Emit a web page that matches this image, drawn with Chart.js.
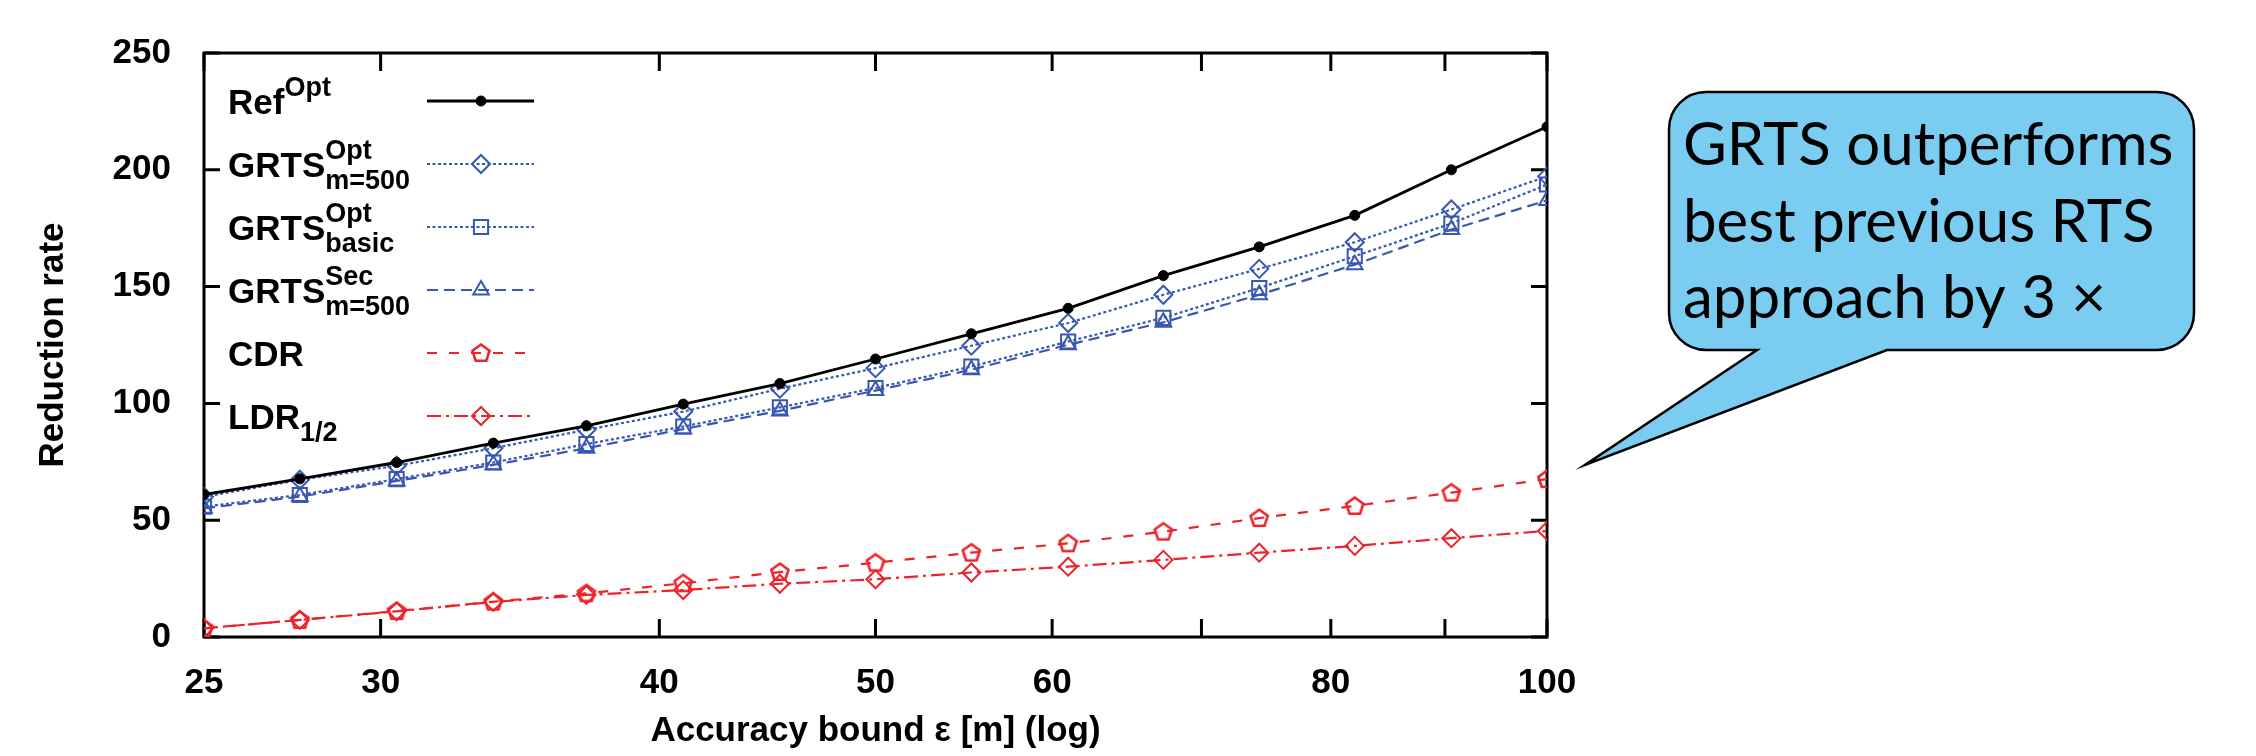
<!DOCTYPE html>
<html>
<head>
<meta charset="utf-8">
<script src="https://cdn.jsdelivr.net/npm/chart.js@4.4.0/dist/chart.umd.min.js"></script>
<style>
  html,body{margin:0;padding:0;background:#fff;}
  #wrap{width:2256px;height:756px;}
</style>
</head>
<body>
<div id="wrap"><canvas id="myChart" width="2256" height="756"></canvas></div>
<script>
//---------- data ----------
const accuracyBounds = [25, 27.6, 30.5, 33.7, 37.1, 41, 45.3, 50, 55.2, 61, 67.3, 74.3, 82, 90.6, 100];
const refOpt      = [61, 67.7, 74.7, 83, 90.4, 99.7, 108.5, 119, 129.8, 140.7, 154.7, 167, 180.5, 200, 218.4];
const grtsOptM500 = [60, 67.3, 73.3, 80.8, 88.7, 96.5, 106.3, 115.1, 124.7, 134.4, 146.5, 157.6, 169, 183, 197.2];
const grtsOptBasic= [55.8, 60.8, 67.6, 74.7, 82.6, 90.1, 98.3, 106.6, 115.8, 126.5, 136.6, 149.4, 163, 177, 193.7];
const grtsSecM500 = [55.1, 60.1, 66.8, 73.7, 80.8, 89, 96.8, 105.5, 114.4, 125.1, 134.7, 146.5, 159.4, 174.4, 186.9];
const cdr         = [3.7, 7.3, 11.1, 15.1, 18.7, 23, 27.8, 31.8, 36.1, 40.1, 45.1, 50.9, 56.1, 61.8, 67.6];
const ldrHalf     = [3.7, 7.3, 11, 15, 18, 20.1, 22.8, 24.7, 27.6, 30.1, 33, 36.1, 39, 42.3, 45.4];

const xTickValues = [25, 30, 40, 50, 60, 70, 80, 90, 100];
const xTickLabels = [25, 30, 40, 50, 60, 80, 100];
const yTickValues = [0, 50, 100, 150, 200, 250];

// legend labels: base text, superscript, subscript
const legendBase = ['Ref', 'GRTS', 'GRTS', 'GRTS', 'CDR', 'LDR'];
const legendSup  = ['Opt', 'Opt', 'Opt', 'Sec', '', ''];
const legendSub  = ['', 'm=500', 'basic', 'm=500', '', '1/2'];

const calloutLines = ['GRTS outperforms', 'best previous RTS', 'approach by 3 \u00d7'];

//---------- styles ----------
const BLUE = '#3757b2';
const RED = '#ee2229';
const FONT = 'Liberation Sans, Arial, sans-serif';

// pentagon marker for CDR
const pentagon = document.createElement('canvas');
pentagon.width = 26; pentagon.height = 26;
(function(){
  const c = pentagon.getContext('2d');
  c.strokeStyle = RED; c.lineWidth = 2.6;
  c.beginPath();
  for (let i = 0; i < 5; i++) {
    const a = -Math.PI/2 + i*2*Math.PI/5;
    const px = 13 + 9*Math.cos(a), py = 13.5 + 9*Math.sin(a);
    i ? c.lineTo(px, py) : c.moveTo(px, py);
  }
  c.closePath(); c.stroke();
})();

const toPoints = arr => arr.map((v, i) => ({x: accuracyBounds[i], y: v}));

const datasets = [
  {label: 'RefOpt', data: toPoints(refOpt), borderColor: '#000', borderWidth: 2.8, borderDash: [],
   pointStyle: 'circle', pointRadius: 5, pointBackgroundColor: '#000', pointBorderColor: '#000', pointBorderWidth: 1},
  {label: 'GRTSOpt m=500', data: toPoints(grtsOptM500), borderColor: BLUE, borderWidth: 2.2, borderDash: [3, 2.5],
   pointStyle: 'rectRot', pointRadius: 9, pointBackgroundColor: 'rgba(0,0,0,0)', pointBorderColor: BLUE, pointBorderWidth: 2},
  {label: 'GRTSOpt basic', data: toPoints(grtsOptBasic), borderColor: BLUE, borderWidth: 2.2, borderDash: [3, 2.5],
   pointStyle: 'rect', pointRadius: 10, pointBackgroundColor: 'rgba(0,0,0,0)', pointBorderColor: BLUE, pointBorderWidth: 2},
  {label: 'GRTSSec m=500', data: toPoints(grtsSecM500), borderColor: BLUE, borderWidth: 2.2, borderDash: [11, 6],
   pointStyle: 'triangle', pointRadius: 9, pointBackgroundColor: 'rgba(0,0,0,0)', pointBorderColor: BLUE, pointBorderWidth: 2},
  {label: 'CDR', data: toPoints(cdr), borderColor: RED, borderWidth: 2.2, borderDash: [10, 12],
   pointStyle: pentagon, pointRadius: 9, pointBackgroundColor: 'rgba(0,0,0,0)', pointBorderColor: RED, pointBorderWidth: 2},
  {label: 'LDR1/2', data: toPoints(ldrHalf), borderColor: RED, borderWidth: 2.2, borderDash: [14, 5, 3, 5],
   pointStyle: 'rectRot', pointRadius: 9, pointBackgroundColor: 'rgba(0,0,0,0)', pointBorderColor: RED, pointBorderWidth: 2},
];
datasets.forEach(d => { d.fill = false; d.tension = 0; d.pointHoverRadius = d.pointRadius; });

//---------- frame with inward ticks ----------
const framePlugin = {
  id: 'frame',
  beforeDatasetsDraw(chart) {
    const {ctx, chartArea: a, scales: {x, y}} = chart;
    ctx.save();
    ctx.strokeStyle = '#000';
    ctx.lineWidth = 3;
    ctx.strokeRect(a.left, a.top, a.right - a.left, a.bottom - a.top);
    ctx.beginPath();
    xTickValues.forEach(v => {
      const px = x.getPixelForValue(v);
      ctx.moveTo(px, a.bottom); ctx.lineTo(px, a.bottom - 18);
      ctx.moveTo(px, a.top); ctx.lineTo(px, a.top + 18);
    });
    yTickValues.forEach(v => {
      const py = y.getPixelForValue(v);
      ctx.moveTo(a.left, py); ctx.lineTo(a.left + 16, py);
      ctx.moveTo(a.right, py); ctx.lineTo(a.right - 16, py);
    });
    ctx.stroke();
    ctx.restore();
  }
};

//---------- legend with super/subscripts ----------
const legendPlugin = {
  id: 'richLegend',
  afterDatasetsDraw(chart) {
    const {ctx, chartArea: a} = chart;
    ctx.save();
    chart.data.datasets.forEach((ds, i) => {
      const rowY = a.top + 48 + i*63;
      const tx = a.left + 24, base = rowY + 13;
      ctx.fillStyle = '#000';
      ctx.textBaseline = 'alphabetic';
      ctx.textAlign = 'left';
      ctx.font = 'bold 35px ' + FONT;
      ctx.fillText(legendBase[i], tx, base);
      const w = ctx.measureText(legendBase[i]).width;
      ctx.font = 'bold 27px ' + FONT;
      if (legendSup[i]) ctx.fillText(legendSup[i], tx + w, base - 18);
      if (legendSub[i]) ctx.fillText(legendSub[i], tx + w, base + 12);
      // line sample
      ctx.strokeStyle = ds.borderColor;
      ctx.lineWidth = ds.borderWidth;
      ctx.setLineDash(ds.borderDash);
      ctx.beginPath();
      ctx.moveTo(a.left + 223, rowY); ctx.lineTo(a.left + 330, rowY);
      ctx.stroke();
      ctx.setLineDash([]);
      ctx.strokeStyle = ds.pointBorderColor;
      ctx.fillStyle = ds.pointBackgroundColor;
      ctx.lineWidth = ds.pointBorderWidth;
      Chart.helpers.drawPoint(ctx, {pointStyle: ds.pointStyle, radius: ds.pointRadius,
        borderWidth: ds.pointBorderWidth, rotation: 0}, a.left + 277, rowY);
    });
    ctx.restore();
  }
};

//---------- speech bubble ----------
const calloutPlugin = {
  id: 'callout',
  afterDraw(chart) {
    const ctx = chart.ctx;
    const L = 1669, T = 92, R = 2194, B = 350, r = 37;
    ctx.save();
    ctx.beginPath();
    ctx.moveTo(L + r, T);
    ctx.lineTo(R - r, T);
    ctx.arcTo(R, T, R, T + r, r);
    ctx.lineTo(R, B - r);
    ctx.arcTo(R, B, R - r, B, r);
    ctx.lineTo(1887, B);
    ctx.lineTo(1585, 465);
    ctx.lineTo(1757, B);
    ctx.lineTo(L + r, B);
    ctx.arcTo(L, B, L, B - r, r);
    ctx.lineTo(L, T + r);
    ctx.arcTo(L, T, L + r, T, r);
    ctx.closePath();
    ctx.fillStyle = '#7acdf1';
    ctx.fill();
    ctx.strokeStyle = '#000';
    ctx.lineWidth = 2.5;
    ctx.lineJoin = 'miter';
    ctx.stroke();
    ctx.fillStyle = '#000';
    ctx.font = '60px Lato, sans-serif';
    ctx.textAlign = 'left';
    ctx.textBaseline = 'alphabetic';
    calloutLines.forEach((t, i) => ctx.fillText(t, 1683, 165 + i*76.7));
    ctx.restore();
  }
};

const tickFont = {family: FONT, size: 35, weight: 'bold'};

const chart = new Chart(document.getElementById('myChart'), {
  type: 'line',
  data: {datasets: datasets},
  options: {
    responsive: false,
    animation: false,
    layout: {padding: {left: 0, top: 53, right: 709, bottom: 0}},
    plugins: {legend: {display: false}, tooltip: {enabled: false}},
    scales: {
      x: {
        type: 'logarithmic', min: 25, max: 100,
        afterBuildTicks: s => { s.ticks = xTickValues.map(v => ({value: v})); },
        afterFit: s => { s.height = 119; },
        grid: {display: false}, border: {display: false},
        ticks: {
          autoSkip: false, maxRotation: 0, color: '#000', font: tickFont, padding: 17,
          callback: v => xTickLabels.includes(v) ? String(v) : ''
        },
        title: {display: true, text: 'Accuracy bound \u03b5 [m] (log)', color: '#000', font: tickFont, padding: {top: 0, bottom: 4}}
      },
      y: {
        min: 0, max: 250,
        afterBuildTicks: s => { s.ticks = yTickValues.map(v => ({value: v})); },
        afterFit: s => { s.width = 204; },
        grid: {display: false}, border: {display: false},
        ticks: {color: '#000', font: tickFont, padding: 25},
        title: {display: true, text: 'Reduction rate', color: '#000', font: tickFont, padding: {top: 32, bottom: 0}}
      }
    }
  },
  plugins: [framePlugin, legendPlugin, calloutPlugin]
});
</script>
</body>
</html>
